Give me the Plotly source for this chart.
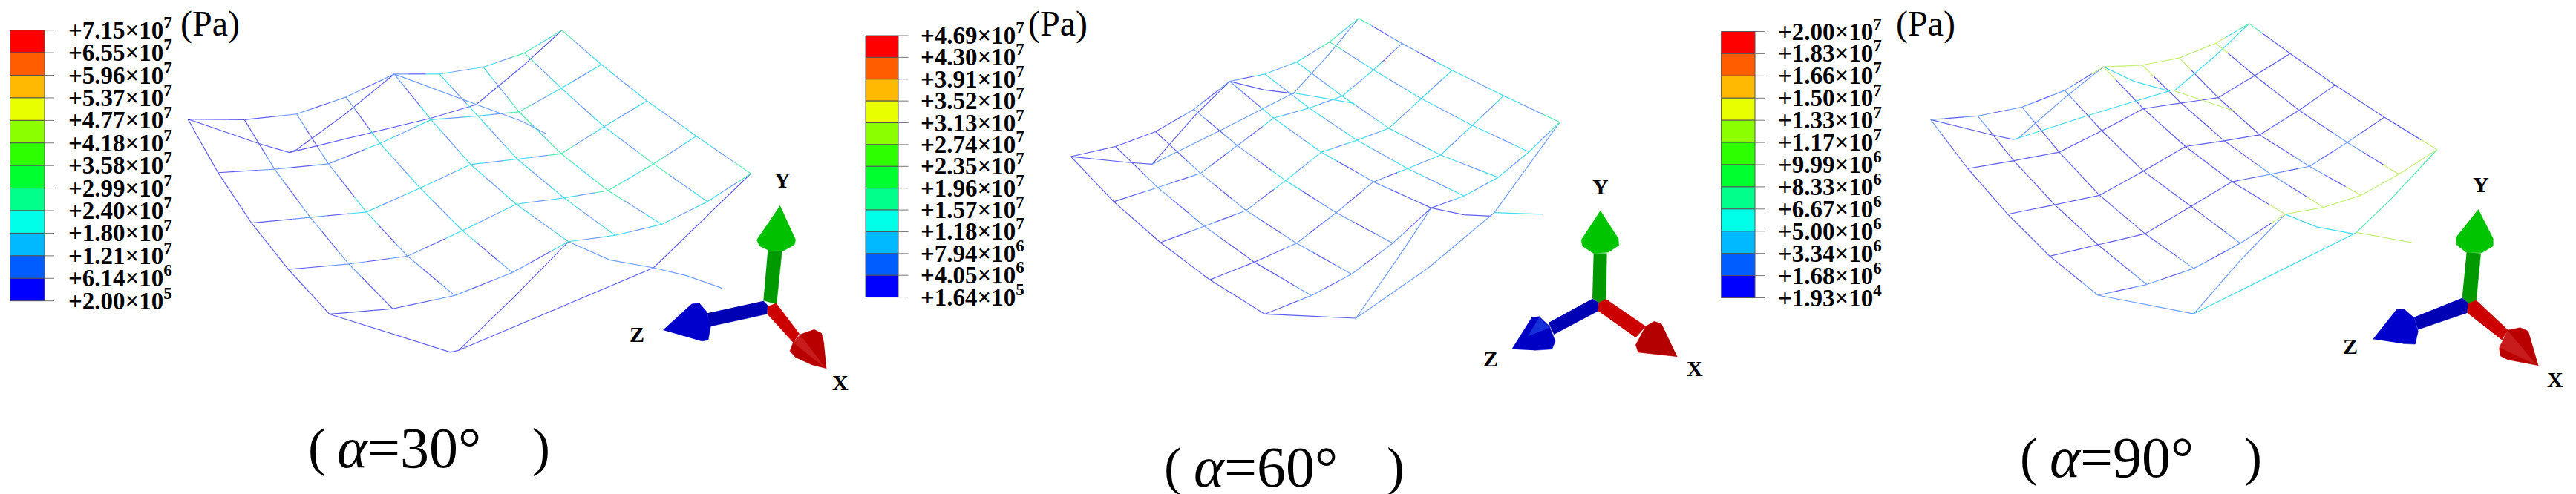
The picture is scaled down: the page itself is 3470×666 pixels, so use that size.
"""Three FE contour meshes (alpha = 30, 60, 90 deg) with legends and axis triads."""

import numpy as np
import plotly.graph_objects as go

WIDTH, HEIGHT = 3470, 666

# contour bands, top of the legend first
BAND_COLORS = [
    "#ff0000", "#ff5d00", "#ffb900", "#e8ff00", "#8bff00", "#2eff00",
    "#00ff2e", "#00ff8b", "#00ffe8", "#00b9ff", "#005dff", "#0000ff",
]
LINE_COLORS = ["#5f5ff2", "#6f9dff", "#45dcec", "#55eeb0", "#c6f078"]

LABELS_30 = ["+7.15×10<sup>7</sup>", "+6.55×10<sup>7</sup>", "+5.96×10<sup>7</sup>", "+5.37×10<sup>7</sup>",
             "+4.77×10<sup>7</sup>", "+4.18×10<sup>7</sup>", "+3.58×10<sup>7</sup>", "+2.99×10<sup>7</sup>",
             "+2.40×10<sup>7</sup>", "+1.80×10<sup>7</sup>", "+1.21×10<sup>7</sup>", "+6.14×10<sup>6</sup>",
             "+2.00×10<sup>5</sup>"]
LABELS_60 = ["+4.69×10<sup>7</sup>", "+4.30×10<sup>7</sup>", "+3.91×10<sup>7</sup>", "+3.52×10<sup>7</sup>",
             "+3.13×10<sup>7</sup>", "+2.74×10<sup>7</sup>", "+2.35×10<sup>7</sup>", "+1.96×10<sup>7</sup>",
             "+1.57×10<sup>7</sup>", "+1.18×10<sup>7</sup>", "+7.94×10<sup>6</sup>", "+4.05×10<sup>6</sup>",
             "+1.64×10<sup>5</sup>"]
LABELS_90 = ["+2.00×10<sup>7</sup>", "+1.83×10<sup>7</sup>", "+1.66×10<sup>7</sup>", "+1.50×10<sup>7</sup>",
             "+1.33×10<sup>7</sup>", "+1.17×10<sup>7</sup>", "+9.99×10<sup>6</sup>", "+8.33×10<sup>6</sup>",
             "+6.67×10<sup>6</sup>", "+5.00×10<sup>6</sup>", "+3.34×10<sup>6</sup>", "+1.68×10<sup>6</sup>",
             "+1.93×10<sup>4</sup>"]

MESH_30_X = [
    [342, 445, 540, 630, 718, 800, 880, 955, 1023],
    [397, 500, 598, 692, 785, 870, 945, 1022, 1095],
    [458, 565, 667, 765, 857, 942, 1022, 1100, 1178],
    [525, 635, 742, 842, 940, 1027, 1107, 1190, 1268],
    [600, 715, 828, 933, 1035, 1120, 1205, 1288, 1367],
]
MESH_30_Y = [
    [378, 380, 362, 308, 235, 235, 213, 168, 96],
    [548, 537, 520, 455, 380, 368, 355, 280, 205],
    [708, 690, 673, 597, 522, 505, 488, 402, 320],
    [855, 838, 813, 732, 648, 628, 605, 520, 432],
    [997, 980, 938, 865, 767, 747, 712, 640, 551],
]
LEVEL_30 = [
    [0, 0, 1, 1, 1, 2, 2, 3, 3],
    [0, 1, 1, 2, 2, 2, 3, 2, 2],
    [0, 1, 2, 2, 2, 2, 3, 2, 2],
    [0, 1, 1, 2, 2, 2, 3, 3, 2],
    [0, 0, 1, 1, 2, 2, 2, 2, 3],
]
FLAP_30 = [
    (0, [342, 470, 527], [378, 455, 484]),
    (0, [527, 540, 630, 718], [484, 475, 360, 235]),
    (0, [527, 680, 785, 867], [484, 420, 375, 332]),
    (1, [718, 867, 950, 995], [235, 332, 385, 425]),
    (0, [867, 955, 1023], [332, 205, 96]),
    (0, [600, 820, 835], [997, 1118, 1112]),
    (0, [835, 935, 1035], [1112, 945, 767]),
    (0, [835, 1190, 1367], [1112, 850, 551]),
    (1, [1035, 1110, 1190, 1250, 1315], [767, 825, 850, 875, 915]),
]

MESH_60_X = [
    [409, 490, 563, 633, 698, 762, 820, 880, 933],
    [487, 567, 645, 712, 778, 843, 903, 960, 1012],
    [572, 652, 728, 800, 865, 930, 988, 1047, 1103],
    [662, 743, 820, 892, 960, 1022, 1082, 1140, 1197],
    [762, 847, 920, 995, 1065, 1125, 1187, 1243, 1299],
]
MESH_60_Y = [
    [497, 465, 418, 347, 258, 235, 197, 133, 58],
    [640, 595, 550, 462, 375, 343, 305, 222, 138],
    [770, 718, 668, 573, 483, 445, 407, 313, 223],
    [888, 832, 772, 675, 577, 535, 492, 398, 304],
    [997, 938, 870, 772, 660, 622, 563, 482, 388],
]
LEVEL_60 = [
    [0, 0, 0, 1, 1, 2, 2, 3, 3],
    [0, 1, 1, 1, 2, 2, 2, 2, 1],
    [0, 1, 1, 2, 2, 2, 2, 2, 2],
    [0, 0, 1, 1, 1, 2, 2, 2, 2],
    [0, 1, 1, 1, 0, 2, 2, 2, 3],
]
FLAP_60 = [
    (0, [409, 510, 557], [497, 515, 521]),
    (0, [557, 633, 698], [521, 370, 258]),
    (1, [557, 680, 815], [521, 415, 295]),
    (0, [698, 760, 815], [258, 285, 297]),
    (2, [815, 925], [295, 328]),
    (1, [815, 880, 933], [295, 170, 58]),
    (0, [762, 928], [997, 1010]),
    (1, [928, 1000, 1065], [1010, 830, 660]),
    (1, [928, 1060, 1180, 1299], [1010, 850, 675, 388]),
    (0, [1065, 1125, 1175], [660, 682, 686]),
    (2, [1180, 1268], [675, 680]),
]

MESH_90_X = [
    [403, 488, 568, 645, 715, 785, 852, 918, 978],
    [470, 553, 635, 712, 787, 855, 922, 988, 1052],
    [542, 627, 708, 787, 863, 933, 997, 1068, 1133],
    [618, 705, 790, 873, 947, 1017, 1087, 1155, 1222],
    [705, 793, 878, 962, 1043, 1112, 1180, 1248, 1317],
]
MESH_90_Y = [
    [380, 368, 340, 287, 212, 207, 184, 137, 75],
    [535, 510, 483, 415, 345, 327, 310, 240, 170],
    [680, 650, 620, 543, 465, 447, 428, 350, 270],
    [813, 777, 742, 655, 577, 553, 528, 452, 372],
    [937, 903, 852, 772, 680, 658, 620, 553, 475],
]
LEVEL_90 = [
    [1, 1, 1, 1, 4, 4, 4, 4, 3],
    [0, 0, 0, 0, 0, 0, 0, 0, 0],
    [0, 0, 0, 0, 0, 0, 0, 0, 0],
    [0, 0, 0, 0, 0, 1, 1, 1, 0],
    [1, 1, 1, 1, 4, 4, 4, 4, 4],
]
FLAP_90 = [
    (0, [403, 513, 553], [380, 428, 443]),
    (1, [562, 645, 715], [438, 310, 212]),
    (2, [553, 562, 690, 835], [443, 438, 365, 288]),
    (2, [715, 770, 835], [212, 258, 290]),
    (4, [843, 950], [288, 352]),
    (2, [843, 915, 978], [288, 180, 75]),
    (1, [705, 878], [937, 996]),
    (1, [878, 960, 1043], [996, 830, 680]),
    (2, [878, 1170], [996, 740]),
    (3, [1170, 1235, 1317], [740, 630, 475]),
    (2, [1043, 1100, 1165], [680, 720, 742]),
    (4, [1172, 1272], [738, 770]),
]

TRIAD_30 = [
    ("#009a00", [463, 520, 498, 445], [230, 235, 450, 435]),
    ("#00c000", [512, 575, 570, 525, 465, 430, 418], [52, 190, 210, 235, 232, 215, 190]),
    ("#0000b4", [445, 462, 460, 230, 218], [437, 455, 490, 540, 487]),
    ("#0000cc", [40, 155, 185, 215, 232, 222, 195], [555, 450, 445, 480, 540, 595, 600]),
    ("#cc0000", [462, 462, 497, 590, 565], [492, 460, 447, 570, 605]),
    ("#b80000", [700, 640, 575, 552, 565, 595, 650, 680, 690], [710, 695, 665, 640, 605, 572, 553, 568, 610]),
    ("#c81c1c", [595, 565, 695], [575, 605, 708]),
]
TRIAD_60 = [
    ("#009a00", [440, 493, 490, 460, 435], [245, 245, 430, 445, 425]),
    ("#00c400", [467, 540, 542, 500, 440, 395, 390], [72, 185, 212, 240, 245, 215, 190]),
    ("#0000b4", [435, 460, 458, 280, 258], [428, 445, 478, 572, 525]),
    ("#0000c4", [110, 190, 220, 262, 285, 272, 200], [632, 505, 500, 540, 600, 632, 637]),
    ("#1530d8", [175, 220, 262], [580, 505, 545]),
    ("#cc0000", [458, 460, 490, 650, 610], [478, 445, 430, 540, 585]),
    ("#b40000", [778, 620, 610, 650, 685, 715], [662, 645, 615, 540, 520, 530]),
]
TRIAD_90 = [
    ("#009a00", [458, 515, 497, 465, 440], [240, 245, 435, 447, 423]),
    ("#00c400", [505, 565, 565, 520, 455, 418, 415], [67, 185, 215, 242, 240, 210, 180]),
    ("#0000b4", [440, 465, 460, 262, 245], [425, 447, 485, 553, 503]),
    ("#0000cc", [80, 175, 205, 245, 262, 250, 200], [592, 472, 470, 505, 560, 612, 610]),
    ("#cc0000", [460, 465, 497, 625, 600], [485, 447, 435, 555, 595]),
    ("#b80000", [748, 625, 595, 590, 625, 675, 708], [698, 675, 660, 630, 555, 545, 560]),
    ("#c81c1c", [625, 590, 740], [558, 625, 695]),
]

# per panel: crop origin x and x scale of the mesh crop, triad crop origin, legend and text spots
PANELS = [
    dict(mesh=(MESH_30_X, MESH_30_Y, LEVEL_30, FLAP_30), crop_x=0, crop_sx=1568 / 1160,
         triad=TRIAD_30, triad_at=(880, 260), labels=LABELS_30,
         bar=(13.5, 60, 73), tick_y=(40.7, 405.7), label_x=90, pa=(283, 32),
         x_at=(1132, 515), y_at=(1054, 242), z_at=(858, 450),
         caption="<i>α</i>=30°", cap_at=(551, 603), parens=(427, 729)),
    dict(mesh=(MESH_60_X, MESH_60_Y, LEVEL_60, FLAP_60), crop_x=1140, crop_sx=1568 / 1160,
         triad=TRIAD_60, triad_at=(2000, 260), labels=LABELS_60,
         bar=(1166, 1210, 1223.6), tick_y=(48, 400.6), label_x=1238, pa=(1425, 32),
         x_at=(2283, 496), y_at=(2156, 251), z_at=(2008, 483),
         caption="<i>α</i>=60°", cap_at=(1705, 629), parens=(1580, 1880)),
    dict(mesh=(MESH_90_X, MESH_90_Y, LEVEL_90, FLAP_90), crop_x=2300, crop_sx=1568 / 1170,
         triad=TRIAD_90, triad_at=(3170, 260), labels=LABELS_90,
         bar=(2318.6, 2364, 2378), tick_y=(42.5, 401.5), label_x=2393, pa=(2594, 32),
         x_at=(3442, 511), y_at=(3342, 248), z_at=(3166, 466),
         caption="<i>α</i>=90°", cap_at=(2858, 616), parens=(2733, 3035)),
]
CROP_SY = 1568 / 666
SERIF = "Liberation Serif"


def mesh_segments(panel):
    """Collect px line pieces per colour level for one mesh."""
    xs, ys, levels, flaps = panel["mesh"]
    xs = panel["crop_x"] + np.array(xs) / panel["crop_sx"]
    ys = np.array(ys) / CROP_SY
    out = {i: ([], []) for i in range(len(LINE_COLORS))}

    def add(level, xa, ya):
        out[level][0].extend(list(xa) + [None])
        out[level][1].extend(list(ya) + [None])

    def edge(r0, c0, r1, c1):
        a, b = (xs[r0, c0], ys[r0, c0]), (xs[r1, c1], ys[r1, c1])
        la, lb = levels[r0][c0], levels[r1][c1]
        mid = 4 if min(la, lb) == 4 else max(min(la, lb) - 1, 0)
        pa = (a[0] + (b[0] - a[0]) * 0.3, a[1] + (b[1] - a[1]) * 0.3)
        pb = (a[0] + (b[0] - a[0]) * 0.7, a[1] + (b[1] - a[1]) * 0.7)
        add(la, (a[0], pa[0]), (a[1], pa[1]))
        add(mid, (pa[0], pb[0]), (pa[1], pb[1]))
        add(lb, (pb[0], b[0]), (pb[1], b[1]))

    for r in range(5):
        for c in range(9):
            if c < 8:
                edge(r, c, r, c + 1)
            if r < 4:
                edge(r, c, r + 1, c)
    for level, fx, fy in flaps:
        add(level, panel["crop_x"] + np.array(fx) / panel["crop_sx"], np.array(fy) / CROP_SY)
    return out


fig = go.Figure()
annotations = []


def text_at(x, y, text, size, bold=False, anchor="center"):
    annotations.append(dict(
        x=x, y=y, text=f"<b>{text}</b>" if bold else text, showarrow=False,
        xanchor=anchor, yanchor="middle", xref="x", yref="y",
        font=dict(family=SERIF, size=size, color="#000000"),
    ))


for panel in PANELS:
    # mesh
    for level, (sx, sy) in mesh_segments(panel).items():
        fig.add_trace(go.Scatter(x=sx, y=sy, mode="lines", hoverinfo="skip",
                                 line=dict(color=LINE_COLORS[level], width=1.2)))

    # legend bands
    left, right, tick_end = panel["bar"]
    ticks = np.linspace(panel["tick_y"][0], panel["tick_y"][1], 13)
    fig.add_trace(go.Bar(
        x=[(left + right) / 2] * 12, y=np.diff(ticks), base=ticks[:-1], width=right - left,
        marker=dict(color=BAND_COLORS, line=dict(color="#555555", width=1)), hoverinfo="skip",
    ))
    tick_x, tick_y = [], []
    for t in ticks:
        tick_x += [right, tick_end, None]
        tick_y += [t, t, None]
    fig.add_trace(go.Scatter(x=tick_x, y=tick_y, mode="lines", hoverinfo="skip",
                             line=dict(color="#777777", width=1)))
    for t, label in zip(ticks, panel["labels"]):
        text_at(panel["label_x"], t - 3, label, 33, bold=True, anchor="left")
    text_at(panel["pa"][0], panel["pa"][1], "(Pa)", 48)

    # triad
    ox, oy = panel["triad_at"]
    for color, px, py in panel["triad"]:
        fig.add_trace(go.Scatter(
            x=ox + np.array(px) / 3, y=oy + np.array(py) / 3, mode="lines", fill="toself",
            fillcolor=color, line=dict(color=color, width=0.5), hoverinfo="skip",
        ))
    text_at(*panel["x_at"], "X", 30, bold=True)
    text_at(*panel["y_at"], "Y", 30, bold=True)
    text_at(*panel["z_at"], "Z", 30, bold=True)

    # caption
    cx, cy = panel["cap_at"]
    text_at(cx, cy, panel["caption"], 78)
    text_at(panel["parens"][0], cy, "(", 72)
    text_at(panel["parens"][1], cy, ")", 72)

fig.update_layout(
    width=WIDTH, height=HEIGHT, showlegend=False, annotations=annotations,
    plot_bgcolor="white", paper_bgcolor="white", barmode="overlay",
    margin=dict(l=0, r=0, t=0, b=0),
    xaxis=dict(range=[0, WIDTH], visible=False, fixedrange=True),
    yaxis=dict(range=[HEIGHT, 0], visible=False, fixedrange=True),
)
fig.write_html("out.html", config={"displayModeBar": False},
               post_script="document.body.style.margin='0';")
